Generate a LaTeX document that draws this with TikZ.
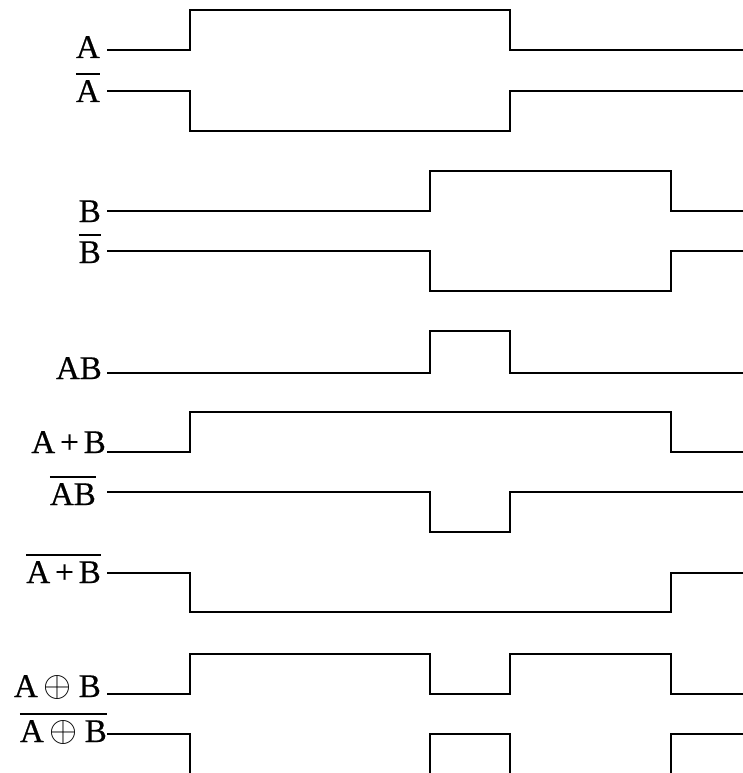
\documentclass[tikz,border=0pt]{standalone}
\usepackage{fontspec}
\setmainfont[FakeBold=0.6]{Liberation Serif}
\newcommand\ovl[1]{\vbox{\hrule height 2pt\kern 5pt\hbox{#1}}}
\newcommand\xo{\hspace{6pt}\raisebox{1pt}{\scalebox{3.6}{\fontsize{10}{12}\selectfont$\oplus$}}\hspace{7pt}}
\begin{document}
\begin{tikzpicture}[x=1pt,y=-1pt,
  wave/.style={line width=2.2pt,line join=miter},
  lbl/.style={anchor=base east,inner sep=0pt,font=\fontsize{33}{38}\selectfont}]
\useasboundingbox (0,0) rectangle (743,773);
\clip (0,0) rectangle (743,773);
% labels
\node[lbl] (la) at (100,58) {A};
\node[lbl] (lna) at (100,102) {\ovl{A}};
\node[lbl] (lb) at (101,222) {B};
\node[lbl] (lnb) at (101,263) {\ovl{B}};
\node[lbl] (lab) at (102,379) {AB};
\node[lbl] (lor) at (106,453) {A\hspace{5pt}+\hspace{5pt}B};
\node[lbl] (lnab) at (96,505) {\ovl{AB}};
\node[lbl] (lnor) at (101,583) {\ovl{A\hspace{5pt}+\hspace{5pt}B}};
\node[lbl] (lxor) at (101,697) {A\xo B};
\node[lbl] (lxnor) at (107,742) {\ovl{A\xo B}};
% waveforms
\draw[wave] (107,50) -- (190,50) -- (190,10) -- (510,10) -- (510,50) -- (745,50);
\draw[wave] (107,91) -- (190,91) -- (190,131) -- (510,131) -- (510,91) -- (745,91);
\draw[wave] (107,211) -- (430,211) -- (430,171) -- (671,171) -- (671,211) -- (745,211);
\draw[wave] (107,251) -- (430,251) -- (430,291) -- (671,291) -- (671,251) -- (745,251);
\draw[wave] (107,373) -- (430,373) -- (430,331) -- (510,331) -- (510,373) -- (745,373);
\draw[wave] (107,452) -- (190,452) -- (190,412) -- (671,412) -- (671,452) -- (745,452);
\draw[wave] (107,492) -- (430,492) -- (430,532) -- (510,532) -- (510,492) -- (745,492);
\draw[wave] (107,573) -- (190,573) -- (190,612) -- (671,612) -- (671,573) -- (745,573);
\draw[wave] (107,694) -- (190,694) -- (190,654) -- (430,654) -- (430,694) -- (510,694) -- (510,654) -- (671,654) -- (671,694) -- (745,694);
\draw[wave] (107,734) -- (190,734) -- (190,780);
\draw[wave] (430,780) -- (430,734) -- (510,734) -- (510,780);
\draw[wave] (671,780) -- (671,734) -- (745,734);
\end{tikzpicture}
\end{document}
